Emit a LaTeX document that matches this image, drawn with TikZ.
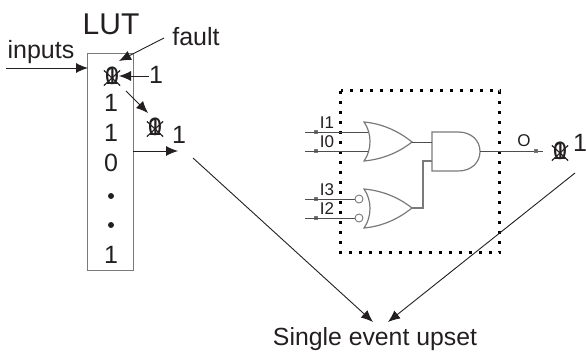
\documentclass[tikz,border=0pt]{standalone}
\usepackage{fontspec}
\setmainfont{Liberation Sans}
\usepackage{tikz}
\usetikzlibrary{arrows.meta,shapes.misc}
\definecolor{inkdark}{HTML}{231F20}
\definecolor{gategray}{HTML}{7A7A7A}
\newcommand{\labelsize}[1]{\fontsize{#1}{#1}\selectfont}

\begin{document}
\begin{tikzpicture}[
    x=1pt,
    y=-1pt,
    >={Latex[length=12pt,width=10pt]},
    text=inkdark,
    main node/.style={draw=none,fill=none,inner sep=0pt,font=\labelsize{25}},
    small node/.style={draw=none,fill=none,inner sep=0pt,font=\labelsize{17}},
    dot node/.style={circle,fill=inkdark,minimum size=6pt,inner sep=0pt},
    lut box/.style={draw=gategray,line width=1pt,minimum width=45.5pt,minimum height=217pt,inner sep=0pt},
    flip cross/.style={cross out,draw=inkdark,line width=1.2pt,minimum width=15pt,minimum height=14pt,inner sep=0pt},
    flow/.style={->,draw=inkdark,line width=.9pt},
    gate/.style={draw=gategray,line width=1.2pt,fill=white},
    wire/.style={draw=inkdark!80,line width=.9pt},
    pin/.style={draw=gategray,fill=inkdark!70,minimum size=3pt,inner sep=0pt,line width=.5pt},
    bubble/.style={circle,draw=gategray,fill=white,minimum size=8pt,inner sep=0pt,line width=.9pt}
    ]

    \useasboundingbox (0,0) rectangle (586,352);

    % lookup table
    \node[lut box] (lut) at (110.5,162) {};
    \node[main node,font=\labelsize{30}] (luttitle) at (111,24.5) {LUT};
    \node[main node] (inputs) at (41,52) {inputs};
    \node[main node] (fault) at (196,37) {fault};
    \node[main node] (faulta) at (112,76) {0};
    \node[main node] (faultb) at (112,76) {1};
    \node[flip cross] (faultx) at (112,78) {};
    \node[main node] (forced) at (156,75) {1};
    \node[main node] (r2) at (111,103) {1};
    \node[main node] (r3) at (111,133) {1};
    \node[main node] (r4) at (111,163) {0};
    \node[dot node] (r5) at (111,196) {};
    \node[dot node] (r6) at (111,225) {};
    \node[main node] (r7) at (111,255) {1};
    \node[main node] (outa) at (155,127) {0};
    \node[main node] (outb) at (155,127) {1};
    \node[flip cross] (outx) at (155,129) {};
    \node[main node] (outnew) at (179,135) {1};

    \coordinate (instart) at (6,68);
    \coordinate (inend) at (88,68);
    \coordinate (faultstart) at (164,38);
    \coordinate (faultend) at (119,61);
    \coordinate (forcestart) at (149,76);
    \coordinate (forceend) at (119,76);
    \coordinate (readstart) at (126,91);
    \coordinate (readend) at (148,113);
    \coordinate (lutout) at (133,151);
    \coordinate (lutoutend) at (178,151);
    \coordinate (seuleft) at (193,158);
    \coordinate (seuleftend) at (373,322);
    \coordinate (seuright) at (575,173);
    \coordinate (seurightend) at (388,322);

    % circuit
    \draw[line width=3pt,dash pattern=on 3pt off 7pt,draw=black]
      (340.5,91) rectangle (499.5,253);

    \foreach \name/\ypos/\txt in {a/132/I1,b/151/I0,c/199/I3,d/218/I2} {
      \node[pin] (pin\name) at (316,\ypos) {};
      \coordinate (wire\name) at (305,\ypos);
      \node[small node] (lab\name) at (327,\ypos-9.5) {\txt};
    }
    \coordinate (orain) at (369,132);
    \coordinate (oraintwo) at (370,151);
    \coordinate (orbin) at (355,199);
    \coordinate (orbintwo) at (355,218);
    \path[wire]
      (wirea) -- (orain)
      (wireb) -- (oraintwo)
      (wirec) -- (orbin)
      (wired) -- (orbintwo);

    \draw[gate] (364,122) .. controls (386,124) and (402,134) .. (412,142)
      .. controls (402,150) and (386,159) .. (364,161)
      .. controls (372,150) and (372,133) .. (364,122) -- cycle;
    \draw[gate] (364,189) .. controls (386,191) and (402,200) .. (412,208)
      .. controls (402,216) and (386,226) .. (364,228)
      .. controls (372,217) and (372,200) .. (364,189) -- cycle;
    \draw[gate] (432,132) -- (458,132) .. controls (472,132) and (480,141) .. (480,151.5)
      .. controls (480,162) and (472,171) .. (458,171) -- (432,171) -- cycle;

    \node[bubble] (nota) at (359,199) {};
    \node[bubble] (notb) at (359,218) {};

    \coordinate (oraout) at (412,142);
    \coordinate (andina) at (432,142);
    \coordinate (orbout) at (412,208);
    \coordinate (orbturn) at (423,208);
    \coordinate (andturn) at (423,161);
    \coordinate (andinb) at (432,161);
    \coordinate (andout) at (480,151);
    \coordinate (outend) at (543,151);
    \path[wire] (oraout) -- (andina) (andout) -- (outend);
    \draw[draw=gategray,line width=1.6pt] (orbout) -- (orbturn) -- (andturn) -- (andinb);

    \node[pin] (pino) at (536,151) {};
    \node[small node] (labo) at (524,141) {O};
    \node[main node] (circa) at (560,151) {0};
    \node[main node] (circb) at (560,151) {1};
    \node[flip cross] (circx) at (560,153) {};
    \node[main node] (circnew) at (580,143) {1};

    \node[main node,font=\labelsize{24.8}] (seu) at (375,339) {Single event upset};

    \path
      (instart) edge[flow] (inend)
      (faultstart) edge[flow] (faultend)
      (forcestart) edge[flow] (forceend)
      (readstart) edge[flow] (readend)
      (lutout) edge[flow] (lutoutend)
      (seuleft) edge[flow] (seuleftend)
      (seuright) edge[flow] (seurightend);
  \end{tikzpicture}
\end{document}
